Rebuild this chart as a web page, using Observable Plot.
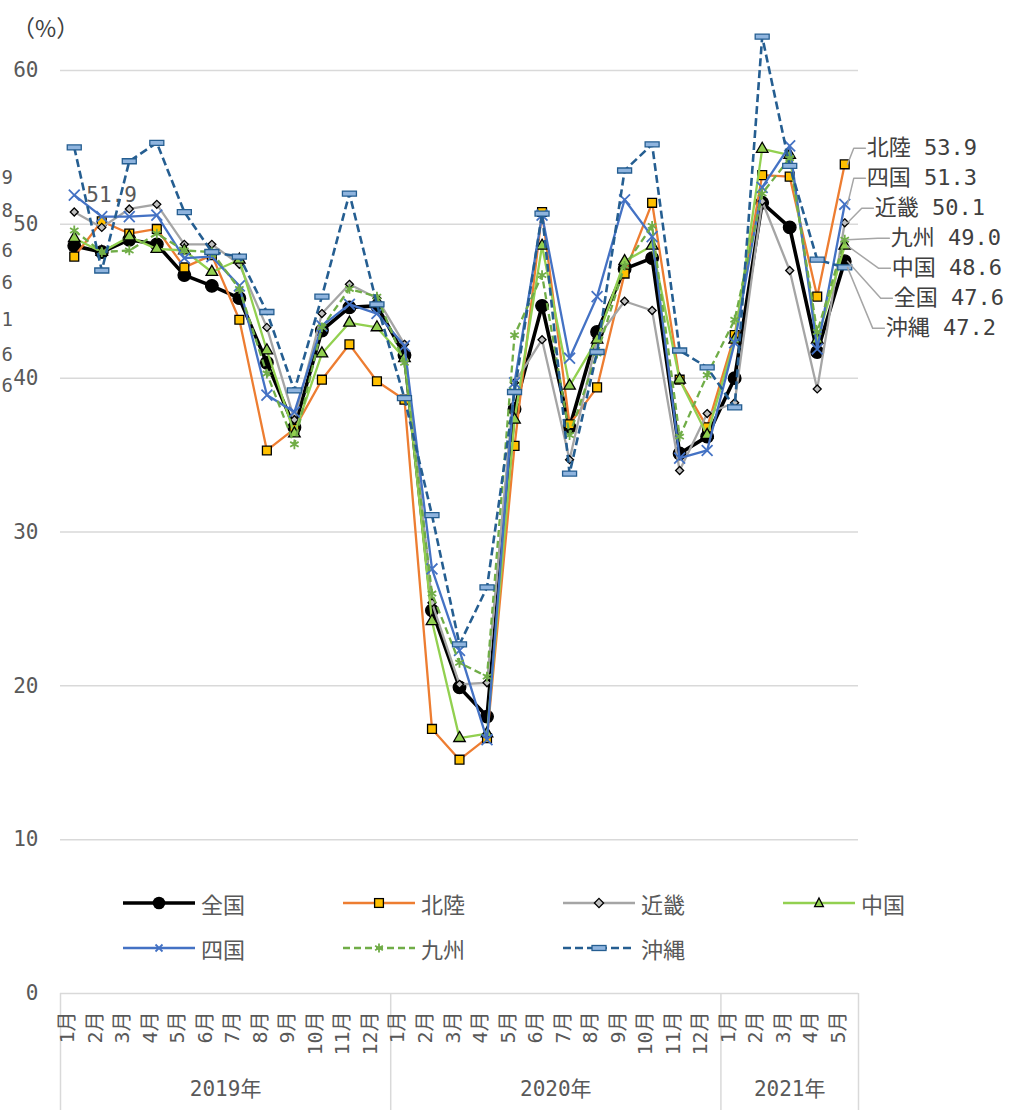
<!DOCTYPE html>
<html>
<head>
<meta charset="utf-8">
<script src="https://cdn.jsdelivr.net/npm/d3@7"></script>
<script src="https://cdn.jsdelivr.net/npm/@observablehq/plot@0.6"></script>
<style>
  body { margin: 0; background: #fff; }
  #wrap { position: relative; width: 1012px; height: 1110px; overflow: hidden; background: #fff; }
  #wrap > svg { position: absolute; left: 0; top: 0; }
  .unit { position: absolute; left: 12px; top: 10px; font: 23px 'Noto Sans CJK JP', sans-serif; color: #404040; }
  .leg { position: absolute; display: flex; align-items: center; font: 22px 'Noto Sans CJK JP', sans-serif; color: #595959; }
  .leg svg { display: block; margin-right: 6px; }
</style>
</head>
<body>
<div id="wrap"></div>
<script>
// ---------- data ----------
const monthLabels = ["1月","2月","3月","4月","5月","6月","7月","8月","9月","10月","11月","12月",
                     "1月","2月","3月","4月","5月","6月","7月","8月","9月","10月","11月","12月",
                     "1月","2月","3月","4月","5月"];
const yearLabels = ["2019年","2020年","2021年"];
const yearMonthCounts = [12, 12, 5];
const yTicks = [0, 10, 20, 30, 40, 50, 60];
const seriesNames = ["全国","北陸","近畿","中国","四国","九州","沖縄"];

const zenkoku = [48.6,48.2,49.0,48.7,46.7,46.0,45.2,41.0,36.8,43.1,44.6,44.7,
                 41.5,24.9,19.9,18.0,38.0,44.7,36.8,43.0,47.1,47.8,35.1,36.2,
                 40.0,51.4,49.8,41.7,47.6];
const hokuriku = [47.9,50.2,49.4,49.7,47.2,48.0,43.8,35.3,36.7,39.9,42.2,39.8,
                  38.6,17.2,15.2,16.6,35.6,50.8,37.0,39.4,46.8,51.4,39.9,36.8,
                  42.8,53.2,53.1,45.3,53.9];
const kinki = [50.8,49.8,51.0,51.3,48.7,48.7,47.4,43.3,37.3,44.2,46.1,45.2,
               42.2,25.4,20.1,20.2,39.7,42.5,34.7,42.6,45.0,44.4,34.0,37.7,
               38.4,51.5,47.0,39.3,50.1];
const chugoku = [49.1,48.2,49.2,48.4,48.3,46.9,47.7,41.8,36.4,41.6,43.6,43.3,
                 41.3,24.2,16.6,16.9,37.3,48.6,39.5,42.5,47.6,48.6,39.9,36.3,
                 42.5,54.9,54.5,42.5,48.6];
const shikoku = [51.9,50.5,50.5,50.6,47.8,47.9,46.0,38.9,37.8,43.4,44.8,44.2,
                 42.1,27.6,22.3,16.5,39.7,50.6,41.3,45.3,51.6,49.2,34.8,35.3,
                 42.3,52.4,55.1,41.9,51.3];
const kyushu = [49.6,48.2,48.3,49.4,48.3,48.2,45.8,40.3,35.7,43.3,45.8,45.3,
                41.0,26.0,21.5,20.6,42.8,46.7,36.3,41.6,47.3,49.9,36.2,40.2,
                43.8,52.0,54.3,43.0,49.0];
const okinawa = [55.0,47.0,54.1,55.3,50.8,48.2,47.9,44.3,39.2,45.3,52.0,44.8,
                 38.7,31.1,22.7,26.4,39.1,50.7,33.8,41.7,53.5,55.2,41.8,40.7,
                 38.1,62.2,53.8,47.7,47.2];
const seriesValues = [zenkoku, hokuriku, kinki, chugoku, shikoku, kyushu, okinawa];

// last digits of first-point labels visible at the left edge
const leftCutDigits = ["9","8","6","6","1","6","6"];
const leftCutLabelY = [53.0, 50.9, 48.3, 46.2, 43.8, 41.5, 39.5];

// ---------- styles / layout ----------
const W = 1012, H = 1110, mL = 60, mR = 154, mT = 70, mB = 117;
const pxPerY = (H - mT - mB) / 60;
const pxPerX = (W - mL - mR) / 29;
const MONO = "'DejaVu Sans Mono','Noto Sans CJK JP',sans-serif";
const TXT = "#595959";

const barSymbol = { draw(ctx) { ctx.rect(-7, -2.5, 14, 5); } };
const styles = [
  {stroke:"#000000", width:3.6, dash:null, symbol:"circle", r:6.3, fill:"#000000", mstroke:"#000000"},
  {stroke:"#ED7D31", width:2.3, dash:null, symbol:"square", r:5.0, fill:"#FFC000", mstroke:"#000000"},
  {stroke:"#A5A5A5", width:2.3, dash:null, symbol:"diamond2", r:3.6, fill:"#C0C0C0", mstroke:"#000000"},
  {stroke:"#92D050", width:2.3, dash:null, symbol:"triangle", r:4.3, fill:"#92D050", mstroke:"#000000"},
  {stroke:"#4472C4", width:2.3, dash:null, symbol:"times", r:5.0, fill:"none", mstroke:"#4472C4"},
  {stroke:"#70AD47", width:2.3, dash:"7,4", symbol:"asterisk", r:4.6, fill:"none", mstroke:"#70AD47"},
  {stroke:"#255E91", width:2.6, dash:"8,4", symbol:barSymbol, r:5, fill:"#8FB4DE", mstroke:"#255E91"}
];
// right-side label layout: text start offset (px) from last point, per rank
const labelOffsetPx = [22, 22, 30, 46, 47, 49, 41];
const labelTopOffsetPx = 16, labelSpacingPx = 30;

// ---------- build ----------
const N = monthLabels.length;
const last = N - 1;
const series = seriesNames.map((name, s) => ({
  name, s, pts: seriesValues[s].map((v, i) => ({x: i, y: v, name}))
}));

const ranked = series.slice().sort((a, b) => b.pts[last].y - a.pts[last].y);
const topY = ranked[0].pts[last].y + labelTopOffsetPx / pxPerY;
const labels = ranked.map((sr, k) => {
  const ly = topY - k * labelSpacingPx / pxPerY;
  const tx = last + labelOffsetPx[k] / pxPerX;
  const ex = last + (labelOffsetPx[k] - 13) / pxPerX;
  const v = sr.pts[last].y;
  return {name: sr.name, v, ly, tx, ex, text: `${sr.name} ${v.toFixed(1)}`,
          path: [{x: last + 0.1, y: v, k}, {x: ex, y: ly, k}, {x: tx - 0.05, y: ly, k}]};
});

const bounds = [-0.5];
yearMonthCounts.forEach((c, i) => bounds.push(bounds[i] + c));
const yearCenters = yearMonthCounts.map((c, i) => bounds[i] + c / 2);
const tableDepth = mB / pxPerY;

const marks = [
  Plot.gridY(yTicks.filter(t => t > 0), {stroke: "#D9D9D9", strokeOpacity: 1, strokeWidth: 1.5}),
  Plot.ruleY([0], {stroke: "#D9D9D9", strokeWidth: 1.5}),
  Plot.ruleX(bounds, {y1: 0, y2: -tableDepth, stroke: "#D9D9D9", strokeWidth: 1.5}),
  Plot.text(yTicks, {y: d => d, text: d => String(d), frameAnchor: "left", dx: -22, textAnchor: "end",
    fontSize: 21, fontFamily: MONO, fill: TXT}),
  Plot.text(d3.range(N), {x: d => d, text: d => monthLabels[d], frameAnchor: "bottom", dy: 18,
    rotate: -90, textAnchor: "end", fontSize: 20, fontFamily: MONO, fill: TXT}),
  Plot.text(yearLabels, {x: (d, i) => yearCenters[i], text: d => d, frameAnchor: "bottom", dy: 102,
    fontSize: 21, fontFamily: MONO, fill: TXT}),
  // first-point label of 四国
  Plot.text([series[4].pts[0]], {x: "x", y: "y", text: d => d.y.toFixed(1), dx: 12, textAnchor: "start",
    fontSize: 21, fontFamily: MONO, fill: TXT}),
  // left-edge label remnants
  Plot.text(leftCutDigits, {x: 0, y: (d, i) => leftCutLabelY[i], text: d => d, dx: -(mL + pxPerX * 0.5 - 1),
    textAnchor: "start", fontSize: 19, fontFamily: MONO, fill: TXT})
];

series.forEach((sr, s) => {
  const st = styles[s];
  marks.push(Plot.line(sr.pts, {x: "x", y: "y", stroke: st.stroke, strokeWidth: st.width,
    strokeDasharray: st.dash || undefined, strokeLinejoin: "round", strokeLinecap: st.dash ? "butt" : "round"}));
  marks.push(Plot.dot(sr.pts, {x: "x", y: "y", symbol: () => st.symbol, r: st.r,
    fill: st.fill, stroke: st.mstroke, strokeWidth: st.symbol === "times" || st.symbol === "asterisk" ? 1.8 : 1.3}));
});

marks.push(Plot.line(labels.flatMap(l => l.path), {x: "x", y: "y", z: "k", stroke: "#A6A6A6", strokeWidth: 1.5}));
marks.push(Plot.text(labels, {x: "tx", y: "ly", text: "text", textAnchor: "start", fontSize: 22,
  fontFamily: MONO, fill: "#404040"}));

const chart = Plot.plot({
  width: W, height: H, marginLeft: mL, marginRight: mR, marginTop: mT, marginBottom: mB,
  x: {type: "linear", domain: [-0.5, N - 0.5], axis: null},
  y: {domain: [0, 60], axis: null},
  style: {background: "white", color: TXT, fontFamily: MONO},
  marks
});

const wrap = document.getElementById("wrap");
wrap.appendChild(chart);

const unit = document.createElement("div");
unit.className = "unit";
unit.textContent = "（%）";
wrap.appendChild(unit);

// ---------- legend ----------
function markerSvg(st) {
  const c = st.mstroke, f = st.fill;
  switch (st.symbol) {
    case "circle": return `<circle r="6.3" fill="${f}"/>`;
    case "square": return `<rect x="-4.4" y="-4.4" width="8.8" height="8.8" fill="${f}" stroke="${c}" stroke-width="1.3"/>`;
    case "diamond2": return `<path d="M0,-4.6L4.6,0L0,4.6L-4.6,0Z" fill="${f}" stroke="${c}" stroke-width="1.3"/>`;
    case "triangle": return `<path d="M0,-5L4.4,3.6L-4.4,3.6Z" fill="${f}" stroke="${c}" stroke-width="1.3"/>`;
    case "times": return `<path d="M-3.5,-3.5L3.5,3.5M3.5,-3.5L-3.5,3.5" stroke="${c}" stroke-width="1.8"/>`;
    case "asterisk": return `<path d="M0,-4.5L0,4.5M-3.9,-2.25L3.9,2.25M3.9,-2.25L-3.9,2.25" stroke="${c}" stroke-width="1.8"/>`;
    default: return `<rect x="-7" y="-2.5" width="14" height="5" fill="${f}" stroke="${c}" stroke-width="1.3"/>`;
  }
}
seriesNames.forEach((name, s) => {
  const st = styles[s];
  const col = s % 4, row = Math.floor(s / 4);
  const d = document.createElement("div");
  d.className = "leg";
  d.style.left = (123 + 220 * col) + "px";
  d.style.top = (887 + 45 * row) + "px";
  d.innerHTML = `<svg width="72" height="30" viewBox="0 -15 72 30"><line x1="0" x2="72" y1="0" y2="0" stroke="${st.stroke}" stroke-width="${st.width}" ${st.dash ? `stroke-dasharray="${st.dash}"` : ""}/><g transform="translate(36,0)">${markerSvg(st)}</g></svg><span>${name}</span>`;
  wrap.appendChild(d);
});
</script>
</body>
</html>
